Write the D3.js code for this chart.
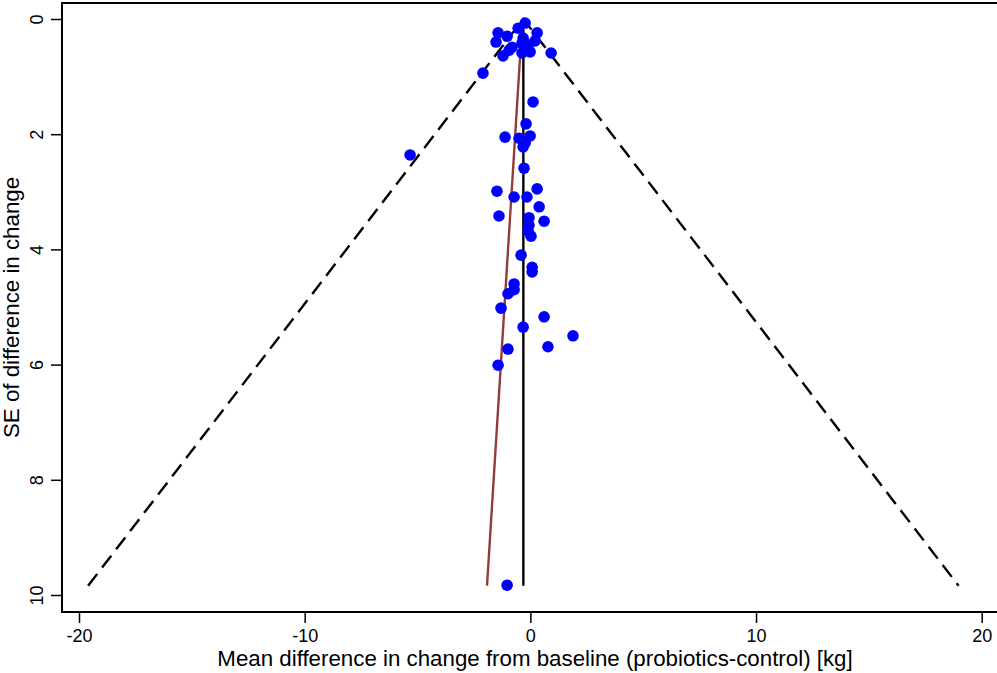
<!DOCTYPE html>
<html><head><meta charset="utf-8">
<script src="https://cdn.jsdelivr.net/npm/d3@7"></script>
<style>html,body{margin:0;padding:0;background:#fff;}svg{display:block;font-family:"Liberation Sans",Arial,Helvetica,sans-serif;}</style>
</head><body>
<svg id="c" width="997" height="673"></svg>
<script>
// Study effects (mean difference, kg) and their standard errors
const effects = [-0.23,-0.54,-1.43,-1.03,-1.52,0.30,0.21,-0.32,-0.37,-0.10,-0.81,-0.94,-1.21,-0.37,-0.01,0.92,-2.10,
  0.12,-0.19,-1.12,-0.50,-0.01,-0.23,-0.32,-0.28,-5.33,-1.48,0.30,-0.72,-0.15,0.39,-1.39,-0.06,0.61,-0.06,-0.10,0.03,
  -0.41,0.08,0.08,-0.72,-0.72,-0.99,-1.30,0.61,-0.32,1.89,-0.99,0.78,-1.43,-1.03];
const ses = [0.07,0.16,0.24,0.30,0.40,0.24,0.38,0.33,0.42,0.45,0.49,0.54,0.64,0.59,0.57,0.59,0.94,
  1.44,1.82,2.05,2.07,2.03,2.15,2.22,2.59,2.36,2.99,2.95,3.09,3.09,3.26,3.42,3.45,3.51,3.58,3.68,3.77,
  4.10,4.31,4.39,4.60,4.70,4.77,5.02,5.17,5.35,5.50,5.73,5.69,6.01,9.83];
const pooled = -0.31;      // pooled estimate
const seMax = 9.84;        // funnel extends to this SE
const zCrit = 1.96;
const eggerAt0 = -0.35;    // Egger line x at SE = 0
const eggerAtMax = -1.92;  // Egger line x at SE = seMax
const xTicks = [-20,-10,0,10,20];
const yTicks = [0,2,4,6,8,10];
const xTitle = "Mean difference in change from baseline (probiotics-control) [kg]";
const yTitle = "SE of difference in change";

const svg = d3.select("#c");
const L = 62, R = 997, T = 3, B = 612;
const x = d3.scaleLinear().domain([-20,20]).range([79,981.7]);
const y = d3.scaleLinear().domain([0,10]).range([19,595]);

// frame
svg.append("path").attr("d",`M${L},${T}H${R+2}M${L},${T-1}V${B}H${R+2}`)
  .attr("fill","none").attr("stroke","#000").attr("stroke-width",2);

// x axis
const xa = svg.append("g").attr("transform",`translate(0,${B})`)
  .call(d3.axisBottom(x).tickValues(xTicks).tickSize(11).tickPadding(6).tickFormat(d3.format("d")));
xa.select(".domain").remove();
xa.selectAll("line").attr("stroke","#000").attr("stroke-width",1.5);
xa.selectAll("text").attr("font-size",18).attr("fill","#000").attr("font-family","Liberation Sans, Arial, sans-serif")
  .text(d=>d<0?"-"+Math.abs(d):d);

// y axis
const ya = svg.append("g").attr("transform",`translate(${L},0)`)
  .call(d3.axisLeft(y).tickValues(yTicks).tickSize(11).tickFormat(d3.format("d")));
ya.select(".domain").remove();
ya.selectAll("line").attr("stroke","#000").attr("stroke-width",1.5);
ya.selectAll("text").remove();
ya.selectAll(".tick").append("text")
  .attr("transform","translate(-19,0) rotate(-90)")
  .attr("text-anchor","middle").attr("font-size",18).attr("fill","#000")
  .attr("font-family","Liberation Sans, Arial, sans-serif")
  .text(d=>d);

// titles
svg.append("text").attr("x",535).attr("y",666).attr("text-anchor","middle")
  .attr("font-size",22.3).attr("fill","#000").text(xTitle);
svg.append("text").attr("transform",`translate(19,${(T+B)/2}) rotate(-90)`).attr("text-anchor","middle")
  .attr("font-size",22.3).attr("fill","#000").text(yTitle);

// funnel dashed lines
const funnel = [[pooled - zCrit*seMax, seMax],[pooled,0],[pooled + zCrit*seMax, seMax]];
svg.append("path").attr("d", d3.line().x(d=>x(d[0])).y(d=>y(d[1]))(funnel))
  .attr("fill","none").attr("stroke","#000").attr("stroke-width",2.4).attr("stroke-dasharray","15,8");

// vertical pooled line
svg.append("line").attr("x1",x(pooled)).attr("x2",x(pooled)).attr("y1",y(0)).attr("y2",y(seMax))
  .attr("stroke","#000").attr("stroke-width",2.4);

// Egger regression line
svg.append("line").attr("x1",x(eggerAt0)).attr("x2",x(eggerAtMax)).attr("y1",y(0)).attr("y2",y(seMax))
  .attr("stroke","#933b3b").attr("stroke-width",2.4);

// points
svg.append("g").selectAll("circle").data(effects.map((e,i)=>[e,ses[i]])).join("circle")
  .attr("cx",d=>x(d[0])).attr("cy",d=>y(d[1])).attr("r",5.8).attr("fill","#0000ff");
</script>
</body></html>
